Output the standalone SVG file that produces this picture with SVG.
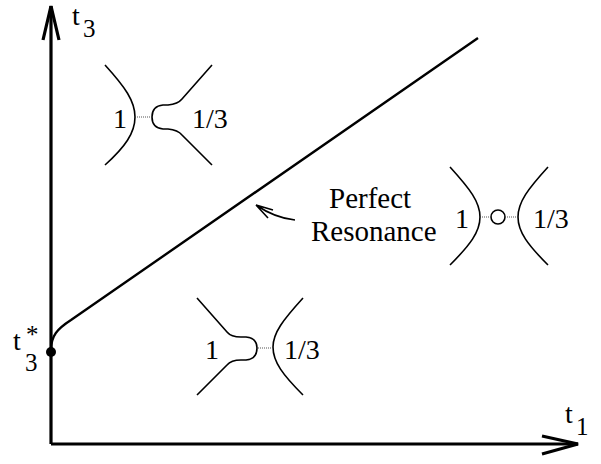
<svg xmlns="http://www.w3.org/2000/svg" width="601" height="464" viewBox="0 0 601 464">
<style>
text{font-family:"Liberation Serif","Times New Roman",serif;fill:#000}
.lbl{font-size:28px}
.big{font-size:29px}
.sub{font-size:25px}
.ax{fill:none;stroke:#000;stroke-width:3.2;stroke-linejoin:miter}
.cv{fill:none;stroke:#000;stroke-width:2.4}
.br{fill:none;stroke:#000;stroke-width:1.6}
.dot{fill:none;stroke:#555;stroke-width:1.2;stroke-dasharray:1,1}
</style>
<rect width="601" height="464" fill="#fff"/>
<g id="axes">
<path class="ax" d="M51,444 L51,6"/>
<path class="ax" d="M43,40 L51,6 L59,40"/>
<path class="ax" d="M51,444 L578,444"/>
<path class="ax" d="M542,436 L578,444 L542,454"/>
<text x="72" y="25" class="lbl">t</text><text x="83" y="37" class="sub">3</text>
<text x="565" y="423" class="lbl">t</text><text x="576" y="435" class="sub">1</text>
<text x="13" y="350" class="lbl">t<tspan x="26" y="343" font-size="25px">*</tspan><tspan x="25" y="371" font-size="25px">3</tspan></text>
<circle cx="51" cy="352" r="5" fill="#000"/>
</g>
<g id="connectors">
<path class="cv" d="M51,350 C51,336 57,329 71,320 L478,38"/>
<path class="br" d="M295,220 Q275,218 256,205 M256,205 L273,210 M256,205 L268,218"/>
</g>
<g id="label-perfect-resonance">
<text x="329" y="208" class="big">Perfect</text>
<text x="311" y="241" class="big">Resonance</text>
</g>
<g id="node-top">
<path class="br" d="M105,65 C125,87 135,101 135,117 C135,133 125,147 105,165"/>
<path class="br" d="M212,65 L182,99 Q178,104 168,105 L163,105 Q152,106 152,117 Q152,128 163,129 L168,129 Q178,130 182,135 L212,165"/>
<path class="dot" d="M137,117 L151,117"/>
<text x="113" y="128" class="lbl">1</text>
<text x="192" y="128" class="lbl">1/3</text>
</g>
<g id="node-right">
<path class="br" d="M450,167 C470,189 480,202 480,217 C480,232 470,245 450,265"/>
<path class="br" d="M548,167 C528,189 518,202 518,217 C518,232 528,245 548,265"/>
<circle class="br" cx="498" cy="217" r="7"/>
<path class="dot" d="M482,217 L491,217 M505,217 L516,217"/>
<text x="455" y="228" class="lbl">1</text>
<text x="533" y="228" class="lbl">1/3</text>
</g>
<g id="node-bottom">
<path class="br" d="M197,298 L227,332 Q231,337 241,337 L246,337 Q257,338 257,348 Q257,359 246,360 L241,360 Q231,360 227,365 L197,395"/>
<path class="br" d="M303,298 C283,320 273,333 273,347 C273,362 283,375 303,395"/>
<path class="dot" d="M258,348 L272,348"/>
<text x="205" y="359" class="lbl">1</text>
<text x="284" y="359" class="lbl">1/3</text>
</g>
</svg>
